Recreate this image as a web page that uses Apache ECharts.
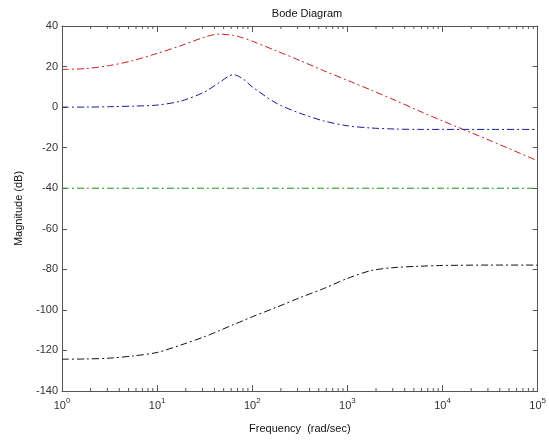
<!DOCTYPE html>
<html>
<head>
    <meta charset="utf-8">
    <script src="https://cdnjs.cloudflare.com/ajax/libs/echarts/6.0.0/echarts.min.js"></script>
</head>
<body>
    <div id="main"></div>
    <style>
html,body { margin: 0; padding: 0; background: #fff; }
#main { width: 549px; height: 440px; }
    </style>
    <script type="text/javascript">
var freq = [1, 1.78, 3.16, 5.62, 10, 17.8, 31.6, 44.7, 63.1, 79.4, 100, 178, 316, 562,
            1000, 1778, 3162, 5623, 10000, 31623, 100000];
var redDb   = [18.6, 19, 20.5, 23, 26.5, 30.3, 34.5, 36, 35.4, 34.2, 32.5, 27.8, 23, 18,
               13.2, 8.4, 3.4, -1.8, -6.8, -16.5, -26.5];
var blueDb  = [0, 0, 0.2, 0.5, 1, 3, 7.5, 12, 16, 14, 10, 2, -3, -6.8,
               -9.2, -10.3, -10.8, -11, -11, -11, -11];
var greenDb = [-40, -40, -40, -40, -40, -40, -40, -40, -40, -40, -40, -40, -40, -40,
               -40, -40, -40, -40, -40, -40, -40];
var blackDb = [-124.3, -124.2, -123.8, -122.7, -121, -117.3, -113.2, -110.3, -107.3, -105.4, -103.4, -98.8, -94, -89.5,
               -84.5, -80.6, -79.1, -78.5, -78.1, -77.9, -77.9];
var yTicks = [-140, -120, -100, -80, -60, -40, -20, 0, 20, 40];
var decades = [0, 1, 2, 3, 4, 5];

var minor = [];
for (var d = 0; d < 5; d++) {
    for (var k = 2; k <= 9; k++) minor.push([k * Math.pow(10, d), -140]);
}

function pairs(ys) {
    return freq.map(function (f, i) { return [f, ys[i]]; });
}

var dashDot = [7, 3, 2, 3];
var axisCol = '#555';
var font = 'Liberation Sans';

function line(name, ys, color) {
    return {
        name: name,
        type: 'line',
        data: pairs(ys),
        smooth: 0.3,
        showSymbol: false,
        lineStyle: { color: color, width: 1, type: dashDot },
        z: 3
    };
}

var option = {
    animation: false,
    backgroundColor: '#fff',
    title: {
        text: 'Bode Diagram',
        left: 302,
        top: 3,
        textAlign: 'center',
        textStyle: { fontFamily: font, fontSize: 11, fontWeight: 'normal', color: '#111' }
    },
    grid: { left: 62, right: 7, top: 26, bottom: 49 },
    xAxis: [{
        type: 'log',
        logBase: 10,
        min: 1,
        max: 100000,
        name: 'Frequency  (rad/sec)',
        nameLocation: 'middle',
        nameGap: 32,
        nameTextStyle: { fontFamily: font, fontSize: 11, color: '#111' },
        axisLine: { onZero: false, lineStyle: { color: axisCol } },
        axisTick: { inside: true, length: 6, lineStyle: { color: axisCol } },
        splitLine: { show: false },
        axisLabel: {
            margin: 6,
            formatter: function (v) {
                var e = Math.round(Math.log(v) / Math.LN10);
                return '{b|10}{e|' + e + '}';
            },
            rich: {
                b: { fontFamily: font, fontSize: 11, color: '#333' },
                e: { fontFamily: font, fontSize: 8, color: '#333', padding: [0, 0, 10, 0] }
            }
        }
    }, {
        type: 'log',
        logBase: 10,
        min: 1,
        max: 100000,
        position: 'top',
        axisLine: { onZero: false, lineStyle: { color: axisCol } },
        axisTick: { inside: true, length: 6, lineStyle: { color: axisCol } },
        axisLabel: { show: false },
        splitLine: { show: false }
    }],
    yAxis: [{
        type: 'value',
        min: -140,
        max: 40,
        interval: 20,
        name: 'Magnitude (dB)',
        nameLocation: 'middle',
        nameGap: 38,
        nameTextStyle: { fontFamily: font, fontSize: 11, color: '#111' },
        axisLine: { show: true, onZero: false, lineStyle: { color: axisCol } },
        axisTick: { show: true, inside: true, length: 5, lineStyle: { color: axisCol } },
        splitLine: { show: false },
        axisLabel: { fontFamily: font, fontSize: 11, color: '#333', margin: 4 }
    }, {
        type: 'value',
        min: -140,
        max: 40,
        interval: 20,
        position: 'right',
        axisLine: { show: true, onZero: false, lineStyle: { color: axisCol } },
        axisTick: { show: true, inside: true, length: 5, lineStyle: { color: axisCol } },
        axisLabel: { show: false },
        splitLine: { show: false }
    }],
    series: [
        line('red', redDb, '#cc1f1f'),
        line('blue', blueDb, '#1a1a9a'),
        line('green', greenDb, '#1f8a1f'),
        line('black', blackDb, '#111'),
        {
            type: 'custom',
            silent: true,
            clip: false,
            data: minor,
            renderItem: function (params, api) {
                var f = api.value(0);
                var b = api.coord([f, -140]);
                var t = api.coord([f, 40]);
                var st = { stroke: axisCol, lineWidth: 1 };
                return {
                    type: 'group',
                    children: [
                        { type: 'line', shape: { x1: b[0], y1: b[1], x2: b[0], y2: b[1] - 3 }, style: st },
                        { type: 'line', shape: { x1: t[0], y1: t[1], x2: t[0], y2: t[1] + 3 }, style: st }
                    ]
                };
            }
        }
    ]
};

var chart = echarts.init(document.getElementById('main'));
chart.setOption(option);
    </script>
</body>
</html>
